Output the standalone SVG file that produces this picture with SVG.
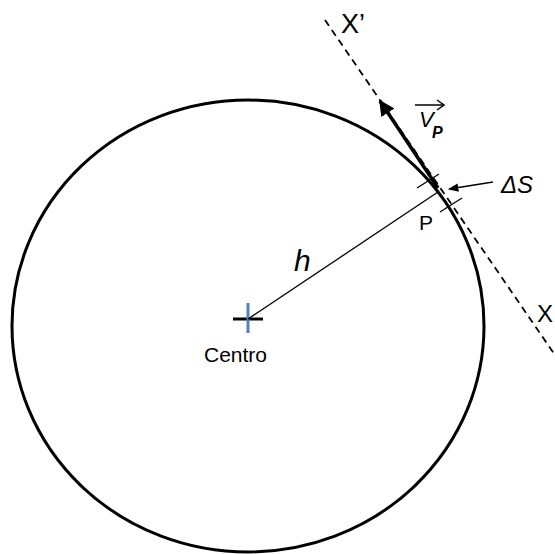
<svg xmlns="http://www.w3.org/2000/svg" width="555" height="554" viewBox="0 0 555 554">
<defs>
<style>
.t{font-family:"Liberation Sans","Open Sans",sans-serif;fill:#000}
.i{font-style:italic}
.thin{stroke:#000;stroke-width:1.3;fill:none}
</style>
<marker id="ah" viewBox="0 0 10 10" refX="9" refY="5" markerWidth="4.5" markerHeight="4.5" orient="auto" markerUnits="strokeWidth">
<path d="M0,0 L10,5 L0,10 z" fill="#000"/>
</marker>
<marker id="ah2" viewBox="0 0 10 10" refX="9" refY="5" markerWidth="8" markerHeight="8" orient="auto" markerUnits="strokeWidth">
<path d="M0,1 L10,5 L0,9 z" fill="#000"/>
</marker>
</defs>
<rect width="555" height="554" fill="#fff"/>
<g id="circle">
<ellipse cx="248" cy="326" rx="236" ry="226" fill="none" stroke="#000" stroke-width="3"/>
</g>
<g id="tangent">
<line x1="325" y1="20" x2="557" y2="358" stroke="#000" stroke-width="1.8" stroke-dasharray="7,5"/>
</g>
<g id="centro">
<line x1="233" y1="319" x2="263" y2="319" stroke="#000" stroke-width="3"/>
<line x1="248" y1="303" x2="248" y2="333" stroke="#4f81bd" stroke-width="3"/>
<text class="t" x="204" y="362" font-size="21">Centro</text>
</g>
<g id="connectors">
<line class="thin" x1="248" y1="319" x2="438" y2="192" stroke-width="1.8"/>
<line x1="438" y1="188" x2="380" y2="101" stroke="#000" stroke-width="3.5" marker-end="url(#ah)"/>
<line class="thin" x1="493" y1="182" x2="449" y2="189" marker-end="url(#ah2)"/>
<line class="thin" x1="417" y1="188" x2="439" y2="174"/>
<line class="thin" x1="440" y1="212" x2="462" y2="198"/>
</g>
<g id="labels">
<text class="t" x="341" y="33" font-size="27">X’</text>
<text class="t" x="537" y="322" font-size="24">X</text>
<text class="t" x="419" y="230" font-size="21">P</text>
<text class="t i" x="294" y="271" font-size="30">h</text>
<text class="t i" x="501" y="193" font-size="24">ΔS</text>
<g id="vp">
<text class="t i" x="419" y="127" font-size="22">V</text>
<text class="t i" x="432" y="138" font-size="16" font-weight="bold">P</text>
<line x1="415" y1="105" x2="443" y2="105" stroke="#000" stroke-width="1.5"/>
<path d="M437,100 L444,105 L437,110" fill="none" stroke="#000" stroke-width="1.5"/>
</g>
</g>
</svg>
